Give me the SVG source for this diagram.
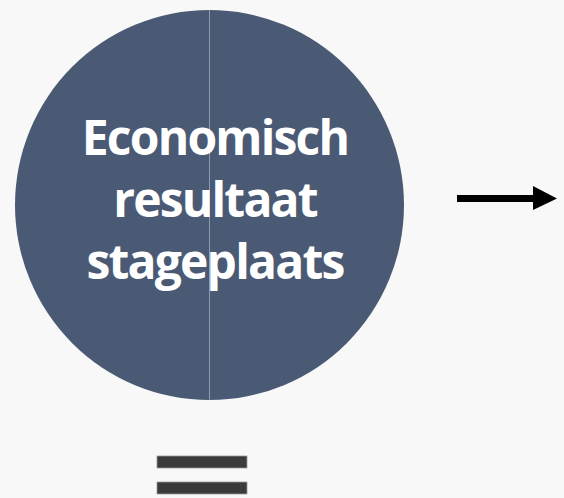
<svg xmlns="http://www.w3.org/2000/svg" width="564" height="498" viewBox="0 0 564 498">
  <style>
    .lbl { font-family: "Open Sans", "Noto Sans", "DejaVu Sans", sans-serif; font-weight: 700; font-size: 48px; letter-spacing: -1.8px; fill: #ffffff; text-anchor: middle; }
    .bar { fill: #3b3b3b; stroke: #9a9a9a; stroke-width: 0.8; }
  </style>
  <rect width="564" height="498" fill="#f8f8f8"/>
  <g id="node-economisch">
    <ellipse cx="209.5" cy="205" rx="194.5" ry="195" fill="#4b5a74"/>
    <line x1="209.5" y1="10" x2="209.5" y2="400" stroke="#8d9ab0" stroke-width="1"/>
    <text class="lbl" x="215" y="155">Economisch</text>
    <text class="lbl" x="215" y="217">resultaat</text>
    <text class="lbl" x="215" y="279">stageplaats</text>
  </g>
  <g id="connectors">
    <rect x="457" y="195" width="77" height="7" fill="#000000"/>
    <polygon points="533,186 557,198.5 533,210" fill="#000000"/>
  </g>
  <g id="node-equals">
    <rect class="bar" x="157" y="456" width="90" height="12"/>
    <rect class="bar" x="157" y="482" width="90" height="12"/>
  </g>
</svg>
